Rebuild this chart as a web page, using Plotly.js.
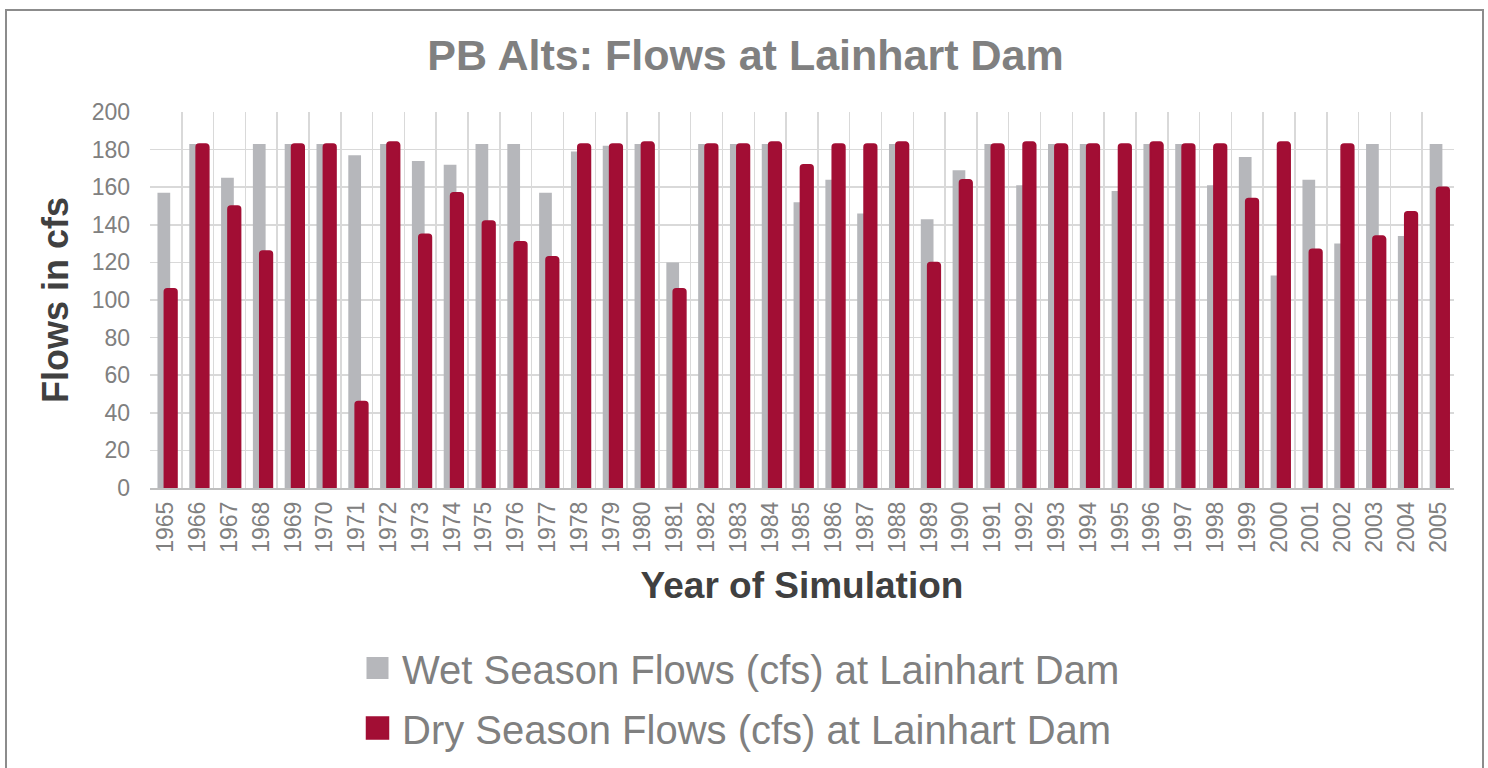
<!DOCTYPE html>
<html>
<head>
<meta charset="utf-8">
<script src="https://cdn.plot.ly/plotly-3.0.1.min.js"></script>
<style>
  html, body { margin: 0; padding: 0; background: #ffffff; }
  #wrap { position: relative; width: 1488px; height: 768px; overflow: hidden; }
  #chart { position: absolute; left: 0; top: 0; width: 1488px; height: 768px; }
  #frame { position: absolute; left: 5px; top: 9px; width: 1479px; height: 800px;
           border: 2px solid #8c8c8c; box-sizing: border-box; pointer-events: none; }
</style>
</head>
<body>
<div id="wrap">
  <div id="chart"></div>
  <div id="frame"></div>
</div>
<script>
const years = ["1965","1966","1967","1968","1969","1970","1971","1972","1973","1974",
  "1975","1976","1977","1978","1979","1980","1981","1982","1983","1984",
  "1985","1986","1987","1988","1989","1990","1991","1992","1993","1994",
  "1995","1996","1997","1998","1999","2000","2001","2002","2003","2004","2005"];

const wetFlows = [157,183,165,183,183,183,177,183,174,172,
  183,183,157,179,182,183,120,183,183,183,
  152,164,146,183,143,169,183,161,183,183,
  158,183,183,161,176,113,164,130,183,134,183];

const dryFlows = [106,183,150,126,183,183,46,184,135,157,
  142,131,123,183,183,184,106,183,183,184,
  172,183,183,184,120,164,183,184,183,183,
  183,184,183,183,154,184,127,183,134,147,160];

const wetName = "Wet Season Flows (cfs) at Lainhart Dam";
const dryName = "Dry Season Flows (cfs) at Lainhart Dam";
const yTicks = [0,20,40,60,80,100,120,140,160,180,200];

const FONT = "Liberation Sans, Arial, Helvetica, sans-serif";
const GRAY = "#b6b7bb";
const RED = "#a20e34";

const traces = [
  {
    type: "bar", name: wetName, x: years, y: wetFlows,
    offset: -0.265, width: 0.40,
    marker: { color: GRAY, line: { width: 0 } },
    legend: "legend", hoverinfo: "x+y"
  },
  {
    type: "bar", name: dryName, x: years, y: dryFlows,
    offset: -0.05, width: 0.40,
    marker: { color: RED, line: { color: RED, width: 1.5 }, cornerradius: 3 },
    legend: "legend2", hoverinfo: "x+y"
  }
];

const layout = {
  width: 1488, height: 768,
  paper_bgcolor: "rgba(0,0,0,0)", plot_bgcolor: "#ffffff",
  margin: { l: 150, r: 34, t: 112, b: 280, pad: 0, autoexpand: false },
  barmode: "overlay",
  showlegend: true,
  font: { family: FONT, color: "#808080" },
  title: {
    text: "PB Alts: Flows at Lainhart Dam",
    font: { family: FONT, size: 43, color: "#808080", weight: "bold" },
    x: 745.5 / 1488, xanchor: "center", xref: "container",
    y: 1 - 55 / 768, yanchor: "middle", yref: "container",
    automargin: false
  },
  xaxis: {
    type: "category",
    tickson: "boundaries",
    showgrid: true, gridcolor: "#d9d9d9", gridwidth: 1.5,
    showline: true, linecolor: "#bfbfbf", linewidth: 1.5,
    ticks: "", tickangle: -90,
    tickfont: { family: FONT, size: 23, color: "#808080" },
    ticklabelstandoff: 3,
    title: {
      text: "Year of Simulation",
      font: { family: FONT, size: 37, color: "#404040", weight: "bold" },
      standoff: 20
    },
    automargin: false,
    fixedrange: true
  },
  yaxis: {
    range: [0, 200],
    tickvals: yTicks,
    showgrid: true, gridcolor: "#d9d9d9", gridwidth: 1.5,
    zeroline: false, showline: false,
    ticks: "",
    tickfont: { family: FONT, size: 23, color: "#808080" },
    ticklabelstandoff: 19,
    title: {
      text: "Flows in cfs",
      font: { family: FONT, size: 36, color: "#404040", weight: "bold" },
      standoff: 12
    },
    automargin: false,
    fixedrange: true
  },
  legend: {
    x: (362 - 150) / 1304, xanchor: "left",
    y: (488 - 668) / 376, yanchor: "middle",
    orientation: "v",
    bgcolor: "rgba(0,0,0,0)",
    font: { family: FONT, size: 40, color: "#808080" }
  },
  legend2: {
    x: (362 - 150) / 1304, xanchor: "left",
    y: (488 - 728) / 376, yanchor: "middle",
    orientation: "v",
    bgcolor: "rgba(0,0,0,0)",
    font: { family: FONT, size: 40, color: "#808080" }
  }
};

function squareSwatches() {
  document.querySelectorAll("#chart .legendpoints path").forEach(function (p) {
    p.removeAttribute("transform");
    p.setAttribute("d", "M4.5,-11H26.5V11H4.5Z");
  });
}

Plotly.newPlot("chart", traces, layout, { displayModeBar: false, staticPlot: true })
  .then(function (gd) {
    squareSwatches();
    gd.on("plotly_afterplot", squareSwatches);
  });
</script>
</body>
</html>
